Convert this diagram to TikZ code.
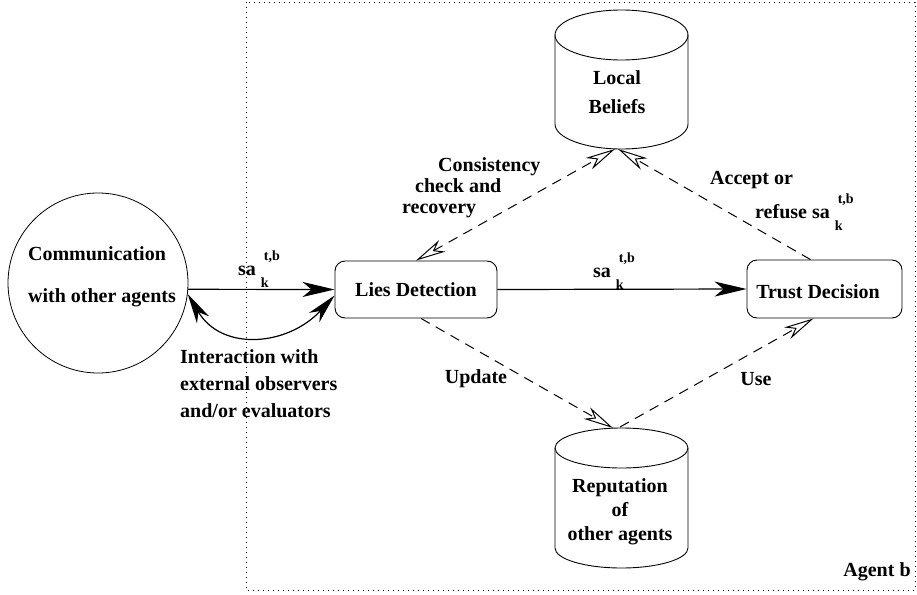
\documentclass[tikz,border=0pt]{standalone}
\usepackage{fontspec}
\setmainfont{Liberation Serif}
\usetikzlibrary{arrows.meta}
\newcommand{\mysak}{sa\rlap{\raisebox{15pt}{\fontsize{14}{14}\selectfont\hspace{8pt}t,b}}\raisebox{-12pt}{\fontsize{14}{14}\selectfont\hspace{5pt}k}}
\begin{document}
\begin{tikzpicture}[x=1pt,y=-1pt,
  font=\fontsize{20}{24}\selectfont\bfseries,
  txt/.style={inner sep=0pt},
  box/.style={draw, rounded corners=10pt, line width=0.9pt},
  solidarr/.style={-{Stealth[length=32pt,width=15pt,inset=9pt]}, line width=1.2pt},
  dasharr/.style={line width=1pt, dash pattern=on 10pt off 7pt},
  ohead/.tip={Stealth[open,length=30pt,width=13pt,inset=9pt,fill=white]},
  cyl/.style={line width=0.9pt}]
\useasboundingbox (0,0) rectangle (917,594);

% agent boundary
\draw[line width=0.8pt, dash pattern=on 1pt off 4pt] (246,2) rectangle (915,590);
\node[txt] (agent) at (877,572) {Agent b};

% communication circle
\node[draw, circle, minimum size=180pt, line width=0.8pt, inner sep=0pt] (comm) at (98,283) {};
\node[txt] (comm1) at (97,254) {Communication};
\node[txt] (comm2) at (102,298) {with other agents};

% boxes
\node[box, minimum width=162pt, minimum height=57pt] (lies) at (416,289.5) {Lies Detection};
\node[box, minimum width=155pt, minimum height=58pt] (trust) at (824.5,289) {};
\node[txt] (trustt) at (818,292) {Trust Decision};

% Local beliefs cylinder
\draw[cyl] (621.5,35) ellipse [x radius=66.5, y radius=25];
\draw[cyl] (555,35) -- (555,124) arc[start angle=180, end angle=0, x radius=66.5, y radius=25] -- (688,35);
\node[txt, align=center, font=\fontsize{20}{29}\selectfont\bfseries] (lb) at (617,92) {Local\\Beliefs};
\coordinate (lbbot) at (615,149);
\coordinate (lbbot2) at (618,149);

% Reputation cylinder
\draw[cyl] (621.5,448) ellipse [x radius=66.5, y radius=20];
\draw[cyl] (555,448) -- (555,548) arc[start angle=180, end angle=0, x radius=66.5, y radius=20] -- (688,448);
\node[txt, align=center, font=\fontsize{20}{24}\selectfont\bfseries] (rep) at (620,512) {Reputation\\of\\other agents};
\coordinate (reptop) at (613,428);
\coordinate (reptop2) at (620,427);

% solid arrows
\draw[solidarr] (comm.-4.5) -- (lies.west);
\draw[solidarr] (lies.east) -- (trust.west);
\draw[line width=1.2pt, {Stealth[length=30pt,width=14pt,inset=9pt]}-{Stealth[length=30pt,width=14pt,inset=9pt]}]
  (comm.-7) .. controls (222,352) and (288,346) .. ([yshift=-6pt]lies.west);

\node[txt, anchor=base west] (s1) at (238,275) {\mysak};
\node[txt, anchor=base west] (s2) at (593,277) {\mysak};

% dashed arrows
\draw[dasharr, ohead-ohead] (lies.north) -- (lbbot);
\draw[dasharr, -ohead] ([xshift=-14pt]trust.north) -- (lbbot2);
\draw[dasharr, -ohead] ([xshift=5pt]lies.south) -- (reptop);
\draw[dasharr, -ohead] (reptop2) -- ([xshift=-11pt]trust.south);

% labels
\node[txt, anchor=north west, align=left, font=\fontsize{20}{21}\selectfont\bfseries] (cons) at (402,157)
  {\hspace*{36pt}Consistency\\\hspace*{13pt}check and\\recovery};
\node[txt, anchor=north west, align=left, font=\fontsize{20}{34}\selectfont\bfseries] (acc) at (710,171)
  {Accept or\\\hspace*{45pt}refuse \mysak};
\node[txt] (up) at (476,379) {Update};
\node[txt] (use) at (756,379) {Use};
\node[txt, anchor=west, align=left, font=\fontsize{20}{27}\selectfont\bfseries] (inter) at (180,384) {Interaction with\\external observers\\and/or evaluators};
\end{tikzpicture}
\end{document}
